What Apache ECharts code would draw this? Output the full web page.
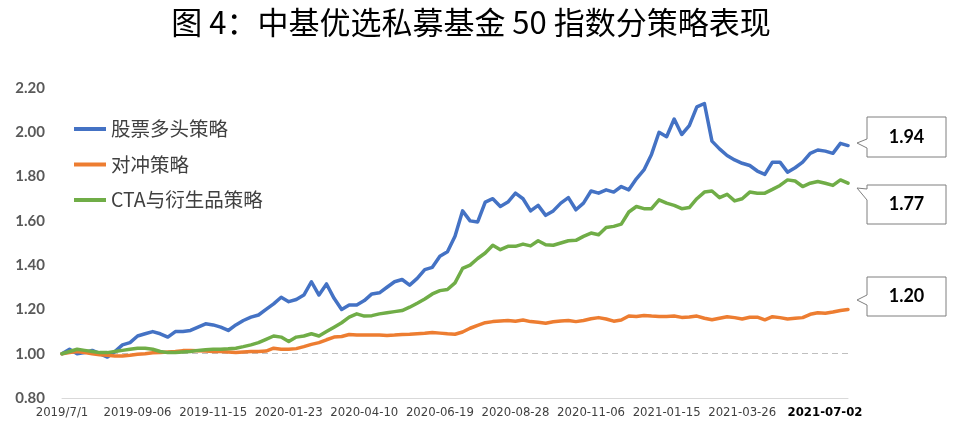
<!DOCTYPE html>
<html>
<head>
<meta charset="utf-8">
<script src="https://cdn.jsdelivr.net/npm/echarts@6/dist/echarts.min.js"></script>
<style>
  html, body { margin: 0; padding: 0; background: #ffffff; }
  #chart { width: 953px; height: 438px; }
</style>
</head>
<body>
<div id="chart"></div>
<script>
// ---- Data ----
var titleText = '图 4：中基优选私募基金 50 指数分策略表现';
var seriesNames = ['股票多头策略', '对冲策略', 'CTA与衍生品策略'];

var categories = [
  '2019/7/1', '2019-07-05', '2019-07-12', '2019-07-19', '2019-07-26', '2019-08-02', '2019-08-09', '2019-08-16', '2019-08-23', '2019-08-30',
  '2019-09-06', '2019-09-12', '2019-09-20', '2019-09-27', '2019-10-04', '2019-10-11', '2019-10-18', '2019-10-25', '2019-11-01', '2019-11-08',
  '2019-11-15', '2019-11-22', '2019-11-29', '2019-12-06', '2019-12-13', '2019-12-20', '2019-12-27', '2020-01-03', '2020-01-10', '2020-01-17',
  '2020-01-23', '2020-02-07', '2020-02-14', '2020-02-21', '2020-02-28', '2020-03-06', '2020-03-13', '2020-03-20', '2020-03-27', '2020-04-03',
  '2020-04-10', '2020-04-17', '2020-04-24', '2020-04-30', '2020-05-08', '2020-05-15', '2020-05-22', '2020-05-29', '2020-06-05', '2020-06-12',
  '2020-06-19', '2020-06-24', '2020-07-03', '2020-07-10', '2020-07-17', '2020-07-24', '2020-07-31', '2020-08-07', '2020-08-14', '2020-08-21',
  '2020-08-28', '2020-09-04', '2020-09-11', '2020-09-18', '2020-09-25', '2020-09-30', '2020-10-09', '2020-10-16', '2020-10-23', '2020-10-30',
  '2020-11-06', '2020-11-13', '2020-11-20', '2020-11-27', '2020-12-04', '2020-12-11', '2020-12-18', '2020-12-25', '2020-12-31', '2021-01-08',
  '2021-01-15', '2021-01-22', '2021-01-29', '2021-02-05', '2021-02-10', '2021-02-19', '2021-02-26', '2021-03-05', '2021-03-12', '2021-03-19',
  '2021-03-26', '2021-04-02', '2021-04-09', '2021-04-16', '2021-04-23', '2021-04-30', '2021-05-07', '2021-05-14', '2021-05-21', '2021-05-28',
  '2021-06-04', '2021-06-11', '2021-06-18', '2021-06-25', '2021-07-02'
];

var longOnly = [
  1.00, 1.02, 1.00, 1.005, 1.015, 1.00, 0.985, 1.01, 1.04, 1.05,
  1.08, 1.09, 1.10, 1.09, 1.075, 1.10, 1.10, 1.105, 1.12, 1.135,
  1.13, 1.12, 1.105, 1.13, 1.15, 1.165, 1.175, 1.20, 1.225, 1.255,
  1.235, 1.245, 1.265, 1.325, 1.265, 1.315, 1.25, 1.20, 1.22, 1.22,
  1.24, 1.27, 1.275, 1.30, 1.325, 1.335, 1.31, 1.34, 1.38, 1.39,
  1.44, 1.46, 1.53, 1.645, 1.60, 1.595, 1.685, 1.70, 1.665, 1.685,
  1.725, 1.70, 1.645, 1.67, 1.625, 1.645, 1.68, 1.705, 1.65, 1.68,
  1.735, 1.725, 1.74, 1.73, 1.755, 1.74, 1.79, 1.83, 1.90, 2.00,
  1.98, 2.06, 1.99, 2.03, 2.115, 2.13, 1.96, 1.925, 1.895, 1.875,
  1.86, 1.85, 1.825, 1.81, 1.865, 1.865, 1.82, 1.84, 1.865, 1.905,
  1.92, 1.915, 1.905, 1.95, 1.94
];

var hedge = [
  1.00, 1.005, 1.01, 1.005, 1.00, 0.995, 0.993, 0.99, 0.99, 0.993,
  0.998, 1.00, 1.004, 1.006, 1.008, 1.01, 1.014, 1.015, 1.013, 1.012,
  1.01, 1.01, 1.008, 1.006, 1.008, 1.01, 1.01, 1.012, 1.025, 1.02,
  1.02, 1.023, 1.032, 1.042, 1.05, 1.063, 1.075, 1.078, 1.087, 1.085,
  1.085, 1.085, 1.084, 1.082, 1.084, 1.087, 1.088, 1.09, 1.092, 1.096,
  1.093, 1.09, 1.088, 1.098, 1.115, 1.128, 1.14, 1.145, 1.148, 1.15,
  1.147, 1.152, 1.145, 1.142, 1.138, 1.144, 1.148, 1.15, 1.145, 1.15,
  1.158, 1.163, 1.157, 1.147, 1.152, 1.17, 1.168, 1.173, 1.17, 1.168,
  1.168, 1.17, 1.164, 1.166, 1.17, 1.16, 1.153, 1.16, 1.167, 1.163,
  1.157, 1.165, 1.165, 1.153, 1.167, 1.163, 1.157, 1.16, 1.163, 1.178,
  1.185, 1.183, 1.188, 1.195, 1.20
];

var cta = [
  1.00, 1.01, 1.02, 1.015, 1.01, 1.005, 1.005, 1.01, 1.015, 1.02,
  1.025, 1.025, 1.02, 1.01, 1.005, 1.005, 1.008, 1.01, 1.015, 1.018,
  1.02, 1.02, 1.022, 1.025, 1.032, 1.04, 1.05, 1.065, 1.08, 1.075,
  1.055, 1.075, 1.08, 1.09, 1.08, 1.10, 1.12, 1.14, 1.165, 1.18,
  1.17, 1.172, 1.18, 1.185, 1.19, 1.195, 1.21, 1.228, 1.247, 1.27,
  1.285, 1.29, 1.32, 1.385, 1.40, 1.43, 1.455, 1.49, 1.47, 1.485,
  1.485, 1.495, 1.487, 1.51, 1.492, 1.49, 1.50, 1.51, 1.512, 1.53,
  1.545, 1.537, 1.57, 1.575, 1.585, 1.64, 1.665, 1.655, 1.655, 1.695,
  1.68, 1.67, 1.655, 1.66, 1.70, 1.73, 1.735, 1.705, 1.72, 1.69,
  1.70, 1.73, 1.725, 1.725, 1.742, 1.76, 1.785, 1.78, 1.755, 1.77,
  1.778, 1.77, 1.76, 1.785, 1.77
];

var yMin = 0.8, yMax = 2.2, yStep = 0.2;
var labelStep = 10, lastLabeledStep = 90;

// ---- Chart ----
var colors = ['#4472C4', '#ED7D31', '#70AD47'];
var lastIdx = categories.length - 1;
var cjk = '"Noto Sans CJK SC", "Noto Sans", sans-serif';
var narrow = '"Liberation Sans Narrow", "DejaVu Sans Condensed", "Noto Sans", sans-serif';

function calloutShape(x, y, w, h, tipX, tipY, a1, a2) {
  return [[x, y], [x + w, y], [x + w, y + h], [x, y + h], [x, a2], [tipX, tipY], [x, a1]];
}
function callout(val, x, y, w, h, tipX, tipY, a1, a2) {
  return [
    {
      type: 'polygon',
      shape: { points: calloutShape(x, y, w, h, tipX, tipY, a1, a2) },
      style: { fill: '#ffffff', stroke: '#7f7f7f', lineWidth: 1 },
      z: 100
    },
    {
      type: 'text',
      x: x + w / 2, y: y + h / 2,
      style: {
        text: val.toFixed(2), fill: '#000000',
        font: 'bold 18px Lato, "Open Sans", sans-serif',
        textAlign: 'center', textVerticalAlign: 'middle'
      },
      z: 101
    }
  ];
}

var chart = echarts.init(document.getElementById('chart'));
var option = {
  backgroundColor: '#ffffff',
  animation: false,
  title: {
    text: titleText,
    left: 466, top: 2, textAlign: 'center',
    textStyle: { fontFamily: cjk, fontSize: 31, fontWeight: 'normal', color: '#000000' }
  },
  legend: {
    data: seriesNames,
    orient: 'vertical',
    left: 74, top: 118,
    padding: 0,
    icon: 'rect',
    itemWidth: 32, itemHeight: 4,
    itemGap: 13.5,
    textStyle: { fontFamily: cjk, fontSize: 19.5, lineHeight: 22, color: '#404040' }
  },
  grid: { left: 62, right: 105, top: 88, bottom: 40, containLabel: false },
  xAxis: {
    type: 'category',
    data: categories,
    boundaryGap: false,
    axisLine: { show: true, onZero: false, lineStyle: { color: '#d9d9d9', width: 1 } },
    axisTick: { show: false },
    splitLine: { show: false },
    axisLabel: {
      interval: function (index) {
        return (index % labelStep === 0 && index <= lastLabeledStep) || index === lastIdx;
      },
      showMaxLabel: true,
      hideOverlap: false,
      formatter: function (v, i) {
        return i === lastIdx ? '{b|' + v + '}' : v;
      },
      alignMaxLabel: 'center',
      margin: 8,
      fontFamily: narrow, fontSize: 13, color: '#404040',
      rich: { b: { fontFamily: narrow, fontSize: 13, fontWeight: 'bold', color: '#000000', padding: [0, 46, 0, 0] } }
    }
  },
  yAxis: {
    type: 'value',
    min: yMin, max: yMax, interval: yStep,
    axisLine: { show: false },
    axisTick: { show: false },
    splitLine: { show: false },
    axisLabel: {
      formatter: function (v) { return v.toFixed(2); },
      margin: 17,
      fontFamily: 'Lato, "Open Sans", sans-serif', fontSize: 15, fontWeight: 'bold', color: '#595959'
    }
  },
  series: [
    {
      name: seriesNames[0], type: 'line', data: longOnly,
      showSymbol: false, smooth: false,
      lineStyle: { color: colors[0], width: 3.5, cap: 'round', join: 'round' },
      itemStyle: { color: colors[0] },
      markLine: {
        silent: true, symbol: 'none', label: { show: false },
        lineStyle: { type: [6, 4], color: '#bfbfbf', width: 1 },
        data: [{ yAxis: 1 }],
        z: 1
      },
      z: 3
    },
    {
      name: seriesNames[1], type: 'line', data: hedge,
      showSymbol: false, smooth: false,
      lineStyle: { color: colors[1], width: 3.5, cap: 'round', join: 'round' },
      itemStyle: { color: colors[1] },
      z: 4
    },
    {
      name: seriesNames[2], type: 'line', data: cta,
      showSymbol: false, smooth: false,
      lineStyle: { color: colors[2], width: 3.5, cap: 'round', join: 'round' },
      itemStyle: { color: colors[2] },
      z: 5
    }
  ],
  graphic: [].concat(
    callout(longOnly[lastIdx], 867, 117, 79, 40, 857, 143, 139, 148),
    callout(cta[lastIdx], 867, 185, 79, 39, 857, 188, 189, 200),
    callout(hedge[lastIdx], 867, 277, 79, 39, 857, 300, 295, 305)
  )
};
chart.setOption(option);
</script>
</body>
</html>
